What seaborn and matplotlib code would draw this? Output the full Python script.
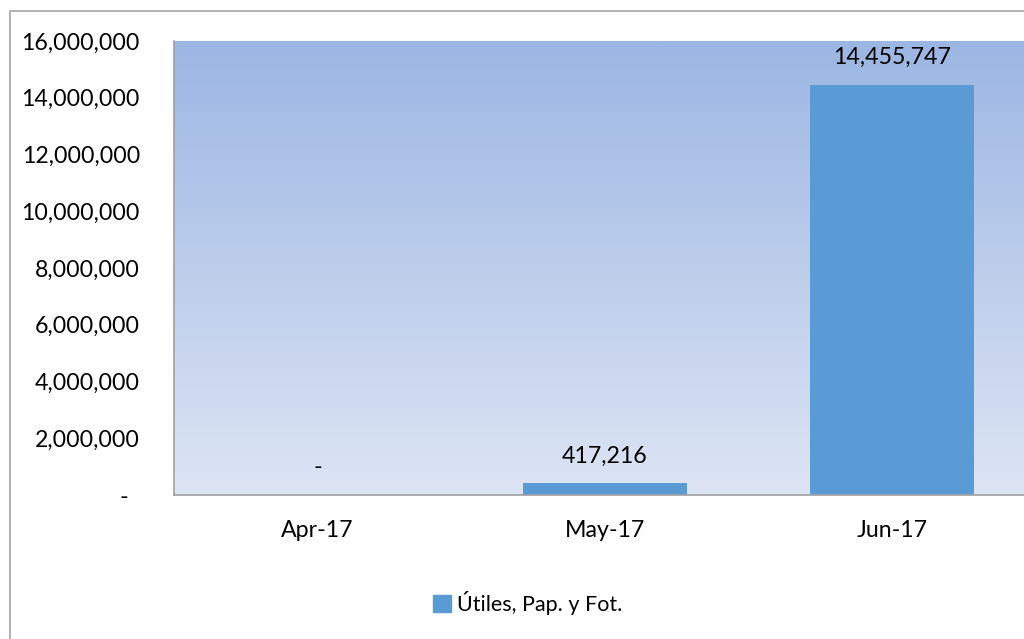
import matplotlib.pyplot as plt
import matplotlib.patches as mpatches
from matplotlib.colors import LinearSegmentedColormap
import numpy as np
import seaborn as sns

months = ["Apr-17", "May-17", "Jun-17"]
values = [0, 417216, 14455747]
series_name = "Útiles, Pap. y Fot."
y_ticks = [0, 2000000, 4000000, 6000000, 8000000, 10000000, 12000000, 14000000, 16000000]

sns.set_style("white")
plt.rcParams['font.family'] = ['Lato', 'DejaVu Sans']
plt.rcParams['text.color'] = 'black'
plt.rcParams['xtick.color'] = 'black'
plt.rcParams['ytick.color'] = 'black'

fig = plt.figure(figsize=(10.24, 6.39), dpi=100)
ax = fig.add_axes([174 / 1024, 1 - 495 / 639, (1035.5 - 174) / 1024, (495 - 41) / 639])

# gradient background of the plot area
cmap = LinearSegmentedColormap.from_list("bg", ["#DDE5F4", "#9CB6E3"])
grad = np.linspace(0, 1, 256).reshape(-1, 1)
ax.imshow(grad, extent=[0, 1, 0, 1], transform=ax.transAxes, cmap=cmap,
          origin="lower", aspect="auto", zorder=0)

sns.barplot(x=months, y=values, color="#5B9BD5", saturation=1, width=0.57,
            linewidth=0, ax=ax, zorder=2)

ax.set_xlim(-0.5, 2.5)
ax.set_ylim(0, 16000000)
ax.set_yticks(y_ticks)
ax.set_yticklabels([f"{v:,}" if v else "-  " for v in y_ticks])
ax.tick_params(axis="y", length=0, pad=24.5, labelsize=16.7)
ax.tick_params(axis="x", length=0, pad=18, labelsize=16.7)
ax.set_xlabel("")
ax.set_ylabel("")

for side in ["top", "right"]:
    ax.spines[side].set_visible(False)
for side in ["left", "bottom"]:
    ax.spines[side].set_color("#A0A0A0")
    ax.spines[side].set_linewidth(1.2)

ax.bar_label(ax.containers[0], labels=[f"{v:,}" if v else "-" for v in values],
             padding=12, fontsize=16.7)

# legend
handle = mpatches.Patch(color="#5B9BD5", label=series_name)
fig.legend(handles=[handle], loc="center", bbox_to_anchor=(528 / 1024, 1 - 603 / 639),
           frameon=False, fontsize=15.5, handlelength=0.8, handleheight=0.8,
           handletextpad=0.3)

# chart area border
fig.patches.append(mpatches.Rectangle((10 / 1024, -0.1), 1.1, 1 - 11 / 639 + 0.1,
                                      transform=fig.transFigure, fill=False,
                                      edgecolor="#A6A6A6", linewidth=1.2))

plt.savefig("out.png", dpi=100)
